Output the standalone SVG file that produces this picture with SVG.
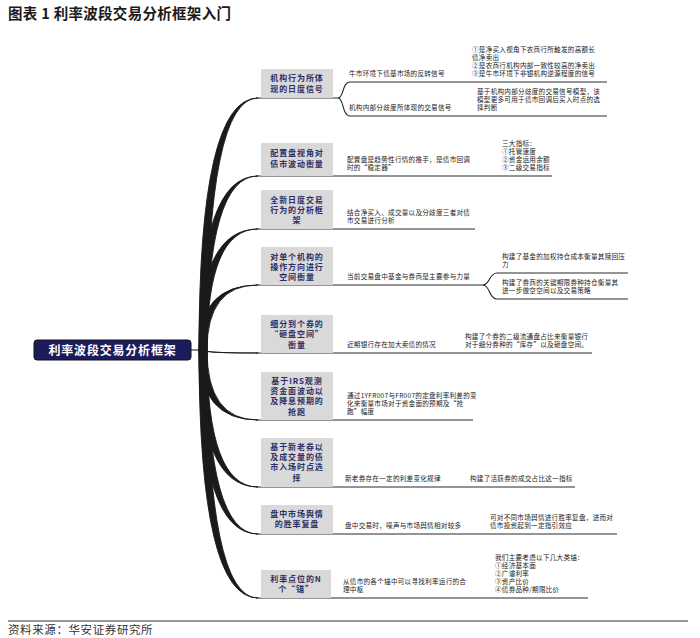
<svg xmlns="http://www.w3.org/2000/svg" width="700" height="638" viewBox="0 0 700 638">
<style>
.leaf{font-family:"Noto Sans CJK SC","Noto Sans CJK JP",sans-serif;font-size:6.6px;fill:#222;letter-spacing:0.25px}
.nt{font-family:"Noto Sans CJK SC",sans-serif;font-size:8px;font-weight:700;fill:#2e2e66;text-anchor:middle;letter-spacing:0.9px}
.box{fill:#d9d9d9}
.ln{stroke:#2a2a2a;stroke-width:1.15;fill:none}
.trunk{fill:#1a1a1a;stroke:#1a1a1a;stroke-width:0.9;stroke-linejoin:round}
</style>
<rect width="700" height="638" fill="#fff"/>
<text x="8" y="19" font-family="Noto Sans CJK SC,sans-serif" font-size="14.5" font-weight="700" fill="#1a1a1a" letter-spacing="0.3">图表 1  利率波段交易分析框架入门</text>

<g id="connectors">
<line class="ln" x1="191" y1="350" x2="203" y2="350" stroke-width="2.2"/>
<path class="trunk" d="M199 350 Q199 98 258 98 Q207 98 207 350 Z"/>
<path class="trunk" d="M199 350 Q199 176 258 176 Q207 176 207 350 Z"/>
<path class="trunk" d="M199 350 Q199 229 258 229 Q207 229 207 350 Z"/>
<path class="trunk" d="M199 350 Q199 285 258 285 Q207 285 207 350 Z"/>
<path class="trunk" d="M199 349 Q199 353 258 353 Q207 353 207 351 Z"/>
<path class="trunk" d="M199 350 Q199 420 258 420 Q207 420 207 350 Z"/>
<path class="trunk" d="M199 350 Q199 487 258 487 Q207 487 207 350 Z"/>
<path class="trunk" d="M199 350 Q199 534 258 534 Q207 534 207 350 Z"/>
<path class="trunk" d="M199 350 Q199 598 258 598 Q207 598 207 350 Z"/>
<line class="ln" x1="256" y1="98" x2="338" y2="98"/>
<path class="ln" d="M338 98 C344 98 342 82 350 82 L607 82"/>
<path class="ln" d="M338 98 C344 98 342 116 350 116 L607 116"/>
<line class="ln" x1="256" y1="176" x2="552" y2="176"/>
<line class="ln" x1="256" y1="229" x2="475" y2="229"/>
<line class="ln" x1="256" y1="285" x2="483" y2="285"/>
<path class="ln" d="M483 285 C490 285 489 273 497 273 L628 273"/>
<path class="ln" d="M483 285 C490 285 489 299 497 299 L628 299"/>
<line class="ln" x1="256" y1="353" x2="592" y2="353"/>
<line class="ln" x1="256" y1="420" x2="473" y2="420"/>
<line class="ln" x1="256" y1="487" x2="575" y2="487"/>
<line class="ln" x1="256" y1="534" x2="617" y2="534"/>
<line class="ln" x1="256" y1="598" x2="588" y2="598"/>
</g>

<g id="root">
<rect x="34" y="340" width="157" height="20" rx="3" fill="#1c1c5c" stroke="#111" stroke-width="1"/>
<text x="112.5" y="354.5" font-family="Noto Sans CJK SC,sans-serif" font-size="12" font-weight="700" fill="#fff" text-anchor="middle" letter-spacing="0.8">利率波段交易分析框架</text>
</g>

<g id="b1">
<rect class="box" x="261" y="69" width="72" height="29"/>
<text class="nt" x="297" y="81">机构行为所体</text>
<text class="nt" x="297" y="92">现的日度信号</text>
<text class="leaf" x="349" y="75.5">牛市环境下债基市场的反转信号</text>
<text class="leaf" x="472" y="51.5">①是净买入视角下农商行所触发的高额长</text>
<text class="leaf" x="472" y="59.5">债净卖出</text>
<text class="leaf" x="472" y="67.5">②是农商行机构内部一致性较高的净卖出</text>
<text class="leaf" x="472" y="75.5">③是牛市环境下非银机构逆源程度的信号</text>
<text class="leaf" x="349" y="109.5">机构内部分歧度所体现的交易信号</text>
<text class="leaf" x="477" y="93.5">基于机构内部分歧度的交易信号模型，该</text>
<text class="leaf" x="477" y="101.5">模型更多可用于债市回调后买入时点的选</text>
<text class="leaf" x="477" y="109.5">择判断</text>
</g>

<g id="b2">
<rect class="box" x="261" y="143" width="72" height="33"/>
<text class="nt" x="297" y="156">配置盘视角对</text>
<text class="nt" x="297" y="167">债市波动衡量</text>
<text class="leaf" x="347" y="161.5">配置盘是趋势性行情的推手，是债市回调</text>
<text class="leaf" x="347" y="169.5">时的“稳定器”</text>
<text class="leaf" x="502" y="145.5">三大指标：</text>
<text class="leaf" x="502" y="153.5">①托管速度</text>
<text class="leaf" x="502" y="161.5">②资金运用余额</text>
<text class="leaf" x="502" y="169.5">③二级交易指标</text>
</g>

<g id="b3">
<rect class="box" x="261" y="190" width="72" height="39"/>
<text class="nt" x="297" y="203">全新日度交易</text>
<text class="nt" x="297" y="213">行为的分析框</text>
<text class="nt" x="297" y="223">架</text>
<text class="leaf" x="347" y="214.5">结合净买入、成交量以及分歧度三者对债</text>
<text class="leaf" x="347" y="222.5">市交易进行分析</text>
</g>

<g id="b4">
<rect class="box" x="261" y="247" width="72" height="38"/>
<text class="nt" x="297" y="260">对单个机构的</text>
<text class="nt" x="297" y="270">操作方向进行</text>
<text class="nt" x="297" y="280">空间衡量</text>
<text class="leaf" x="347" y="278.5">当前交易盘中基金与券商是主要参与力量</text>
<text class="leaf" x="502" y="258.5">构建了基金的加权持仓成本衡量其赎回压</text>
<text class="leaf" x="502" y="266.5">力</text>
<text class="leaf" x="502" y="284.5">构建了券商的关键期限券种持仓衡量其</text>
<text class="leaf" x="502" y="292.5">进一步做空空间以及交易策略</text>
</g>

<g id="b5">
<rect class="box" x="261" y="315" width="72" height="38"/>
<text class="nt" x="297" y="327">细分到个券的</text>
<text class="nt" x="297" y="337">“砸盘空间”</text>
<text class="nt" x="297" y="348">衡量</text>
<text class="leaf" x="347" y="346.5">近期银行存在加大卖债的情况</text>
<text class="leaf" x="465" y="338.5">构建了个券的二级流通盘占比来衡量银行</text>
<text class="leaf" x="465" y="346.5">对于细分券种的“库存”以及砸盘空间。</text>
</g>

<g id="b6">
<rect class="box" x="261" y="372" width="72" height="48"/>
<text class="nt" x="297" y="384">基于IRS观测</text>
<text class="nt" x="297" y="394">资金面波动以</text>
<text class="nt" x="297" y="404">及降息预期的</text>
<text class="nt" x="297" y="415">抢跑</text>
<text class="leaf" x="347" y="398">通过1YFR007与FR007的定盘利率利差的变</text>
<text class="leaf" x="347" y="406">化来衡量市场对于资金面的预期及“抢</text>
<text class="leaf" x="347" y="414">跑”幅度</text>
</g>

<g id="b7">
<rect class="box" x="261" y="438" width="72" height="49"/>
<text class="nt" x="297" y="450">基于新老券以</text>
<text class="nt" x="297" y="460">及成交量的债</text>
<text class="nt" x="297" y="470">市入场时点选</text>
<text class="nt" x="297" y="481">择</text>
<text class="leaf" x="345" y="480.5">新老券存在一定的利差变化规律</text>
<text class="leaf" x="470" y="480.5">构建了活跃券的成交占比这一指标</text>
</g>

<g id="b8">
<rect class="box" x="261" y="505" width="72" height="29"/>
<text class="nt" x="297" y="517">盘中市场舆情</text>
<text class="nt" x="297" y="527">的胜率复盘</text>
<text class="leaf" x="345" y="527.5">盘中交易时，噪声与市场舆情相对较多</text>
<text class="leaf" x="490" y="519.5">可对不同市场舆情进行胜率复盘，进而对</text>
<text class="leaf" x="490" y="527.5">债市投资起到一定指引效应</text>
</g>

<g id="b9">
<rect class="box" x="261" y="570" width="70" height="28"/>
<text class="nt" x="296" y="582">利率点位的N</text>
<text class="nt" x="296" y="592">个“锚”</text>
<text class="leaf" x="343" y="583.5">从债市的各个锚中可以寻找利率运行的合</text>
<text class="leaf" x="343" y="591.5">理中枢</text>
<text class="leaf" x="495" y="559.5">我们主要考虑以下几大类锚：</text>
<text class="leaf" x="495" y="567.5">①经济基本面</text>
<text class="leaf" x="495" y="575.5">②广谱利率</text>
<text class="leaf" x="495" y="583.5">③资产比价</text>
<text class="leaf" x="495" y="591.5">④债券品种/期限比价</text>
</g>

<line x1="8" y1="621" x2="688" y2="621" stroke="#333" stroke-width="1"/>
<text x="8" y="634" font-family="Noto Sans CJK SC,sans-serif" font-size="11.5" fill="#333" letter-spacing="0.6">资料来源：华安证券研究所</text>
</svg>
